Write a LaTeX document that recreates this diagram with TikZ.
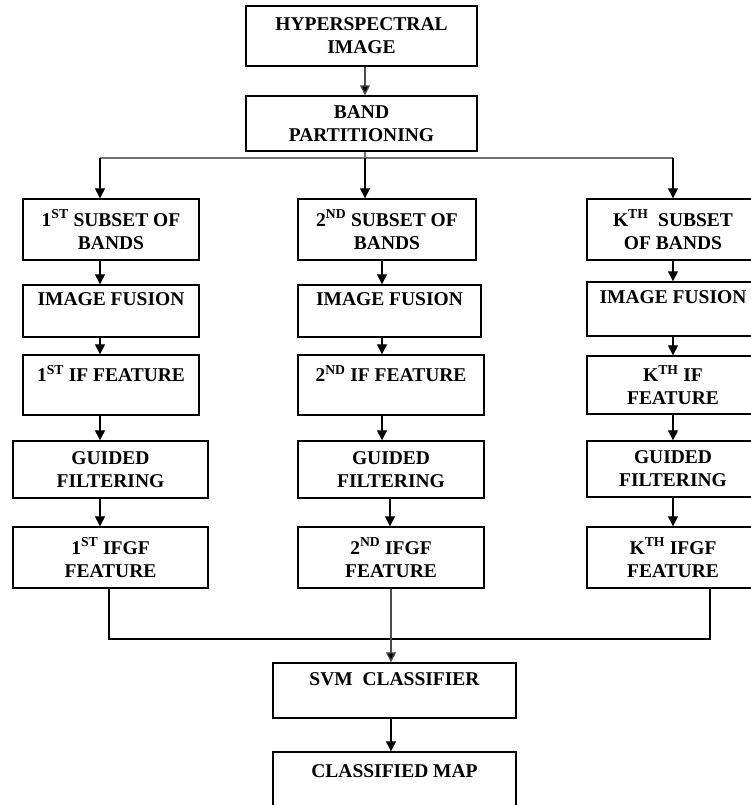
\documentclass[tikz,border=0pt]{standalone}
\usepackage{fontspec}
\setmainfont{Liberation Serif}
\usetikzlibrary{arrows.meta}
\begin{document}
\begin{tikzpicture}[x=1pt,y=-1pt,
  box/.style={draw=black, line width=1.4pt, rectangle, inner sep=0pt, align=center,
    font=\fontsize{19.5}{23}\selectfont\bfseries},
  arr/.style={draw=black, line width=1.3pt, -{Triangle[length=10pt,width=10pt]}},
  garr/.style={draw=black!70, line width=1.3pt, -{Triangle[length=10pt,width=10pt,fill=black]}},
  ln/.style={draw=black, line width=1.3pt},
  gln/.style={draw=black!55, line width=1.8pt}]
\useasboundingbox (0,0) rectangle (751,805);
% top
\node[box, minimum width=231pt, minimum height=60pt] (H) at (361.5,36) {HYPERSPECTRAL\\IMAGE};
\node[box, minimum width=231pt, minimum height=55pt] (B) at (361.5,123.5) {BAND\\PARTITIONING};
% column 1
\node[box, minimum width=176pt, minimum height=61pt] (S1) at (111,229.5) {1\textsuperscript{ST} SUBSET OF\\BANDS};
\node[box, minimum width=176pt, minimum height=52pt] (IF1) at (111,311) {IMAGE FUSION\\~};
\node[box, minimum width=176pt, minimum height=60pt] (F1) at (111,385) {1\textsuperscript{ST} IF FEATURE\\~};
\node[box, minimum width=195pt, minimum height=57pt] (G1) at (110.5,469.5) {GUIDED\\FILTERING};
\node[box, minimum width=195pt, minimum height=61pt] (R1) at (110.5,557.5) {1\textsuperscript{ST} IFGF\\FEATURE};
% column 2
\node[box, minimum width=178pt, minimum height=61pt] (S2) at (387,229.5) {2\textsuperscript{ND} SUBSET OF\\BANDS};
\node[box, minimum width=183pt, minimum height=52pt] (IF2) at (389.5,311) {IMAGE FUSION\\~};
\node[box, minimum width=186pt, minimum height=60pt] (F2) at (391,385) {2\textsuperscript{ND} IF FEATURE\\~};
\node[box, minimum width=186pt, minimum height=57pt] (G2) at (391,469.5) {GUIDED\\FILTERING};
\node[box, minimum width=186pt, minimum height=61pt] (R2) at (391,557.5) {2\textsuperscript{ND} IFGF\\FEATURE};
% column 3
\node[box, minimum width=172pt, minimum height=61pt] (S3) at (673,229.5) {K\textsuperscript{TH}\ \ SUBSET\\OF BANDS};
\node[box, minimum width=172pt, minimum height=54pt] (IF3) at (673,309) {IMAGE FUSION\\~};
\node[box, minimum width=172pt, minimum height=58pt] (F3) at (673,385) {K\textsuperscript{TH} IF\\FEATURE};
\node[box, minimum width=172pt, minimum height=56pt] (G3) at (673,469) {GUIDED\\FILTERING};
\node[box, minimum width=172pt, minimum height=61pt] (R3) at (673,557.5) {K\textsuperscript{TH} IFGF\\FEATURE};
% bottom
\node[box, minimum width=243pt, minimum height=55pt] (SVM) at (394.5,690.5) {SVM\ \ CLASSIFIER\\~};
\node[box, minimum width=243pt, minimum height=61.5pt] (CM) at (394.5,782.75) {CLASSIFIED MAP\\~};
% guide coordinates
\coordinate (c1) at (100,0);
\coordinate (c2) at (382,0);
\coordinate (c2b) at (390,0);
\coordinate (c3) at (673,0);
\coordinate (ct) at (365,0);
\coordinate (busL) at (100,158);
\coordinate (busR) at (673,158);
\coordinate (busM) at (365,158);
\coordinate (b1) at (109,639);
\coordinate (b3) at (710,639);
\coordinate (m1) at (109,0);
\coordinate (m3) at (710,0);
% connectors top
\draw[garr] (H.south -| ct) -- (B.north -| ct);
\draw[gln] (B.south -| ct) -- (busM);
\draw[gln] (busL) -- (busR);
\draw[arr] (busL) -- (S1.north -| c1);
\draw[arr] (busM) -- (S2.north -| ct);
\draw[arr] (busR) -- (S3.north -| c3);
% column 1 arrows
\draw[arr] (S1.south -| c1) -- (IF1.north -| c1);
\draw[arr] (IF1.south -| c1) -- (F1.north -| c1);
\draw[arr] (F1.south -| c1) -- (G1.north -| c1);
\draw[arr] (G1.south -| c1) -- (R1.north -| c1);
% column 2 arrows
\draw[arr] (S2.south -| c2) -- (IF2.north -| c2);
\draw[arr] (IF2.south -| c2) -- (F2.north -| c2);
\draw[arr] (F2.south -| c2) -- (G2.north -| c2);
\draw[arr] (G2.south -| c2b) -- (R2.north -| c2b);
% column 3 arrows
\draw[arr] (S3.south -| c3) -- (IF3.north -| c3);
\draw[arr] (IF3.south -| c3) -- (F3.north -| c3);
\draw[arr] (F3.south -| c3) -- (G3.north -| c3);
\draw[arr] (G3.south -| c3) -- (R3.north -| c3);
% merge
\draw[ln] (R1.south -| m1) -- (b1) -- (b3) -- (R3.south -| m3);
\draw[garr] (R2.south) -- (SVM.north -| R2.south);
\draw[arr] (SVM.south -| R2.south) -- (CM.north -| R2.south);
\end{tikzpicture}
\end{document}
